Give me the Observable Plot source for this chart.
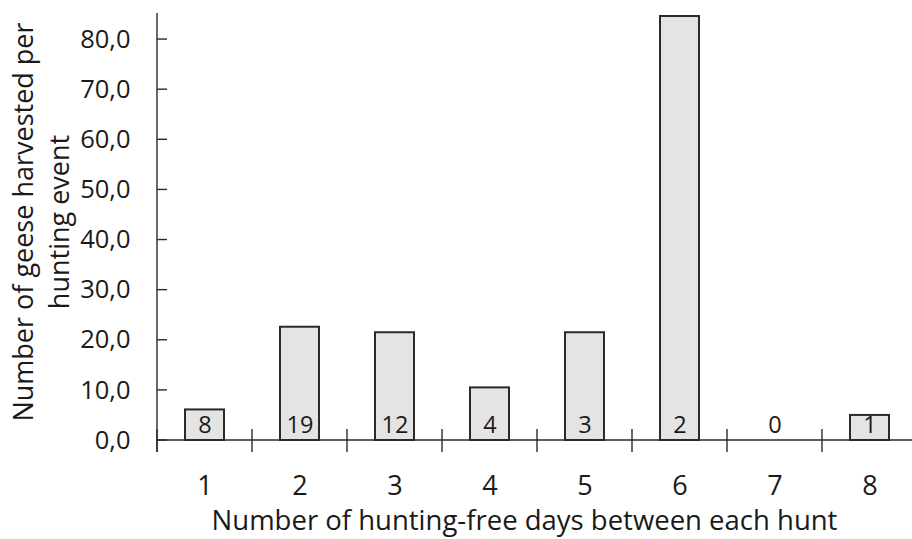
<!DOCTYPE html>
<html><head><meta charset="utf-8">
<script src="https://cdn.jsdelivr.net/npm/d3@7"></script>
<script src="https://cdn.jsdelivr.net/npm/@observablehq/plot@0.6"></script>
<style>html,body{margin:0;padding:0;background:#fff} svg{display:block}</style>
</head><body><div id="chart"></div>
<script>
const days = [1, 2, 3, 4, 5, 6, 7, 8];
const geesePerHunt = [6.1, 22.6, 21.5, 10.5, 21.5, 84.6, 0, 5.0];
const huntCounts = [8, 19, 12, 4, 3, 2, 0, 1];
const yTicks = [0, 10, 20, 30, 40, 50, 60, 70, 80];
const xTitle = "Number of hunting-free days between each hunt";
const yTitle = "Number of geese harvested per\nhunting event";

const data = days.map((d, i) => ({day: d, value: geesePerHunt[i], n: huntCounts[i]}));
const fmt = v => d3.format(".1f")(v).replace(".", ",");

function axisLines(index, scales, values, dim) {
  const g = d3.create("svg:g").attr("stroke", "#2a2a2a").attr("stroke-width", 1.4).attr("fill", "none");
  const x0 = dim.marginLeft, y0 = scales.y(0), yTop = dim.marginTop;
  g.append("line").attr("x1", x0).attr("x2", x0).attr("y1", yTop).attr("y2", y0 + 12);
  g.append("line").attr("x1", x0).attr("x2", dim.width).attr("y1", y0).attr("y2", y0);
  for (const t of yTicks) {
    const y = scales.y(t);
    g.append("line").attr("x1", x0).attr("x2", x0 + 10).attr("y1", y).attr("y2", y);
  }
  for (const d of days) {
    const x = scales.x(d);
    g.append("line").attr("x1", x).attr("x2", x).attr("y1", y0 - 11).attr("y2", y0 + 12);
  }
  return g.node();
}

const chart = Plot.plot({
  width: 912,
  height: 539,
  marginLeft: 157,
  marginRight: -5,
  marginTop: 13,
  marginBottom: 99,
  style: {fontFamily: "'Open Sans', 'Noto Sans', sans-serif", color: "#1a1a1a", background: "#fff"},
  x: {type: "band", domain: days, padding: 0},
  y: {domain: [0, 85.2]},
  marks: [
    Plot.barY(data, {x: "day", y: "value", fill: "#e4e4e4", stroke: "#2a2a2a", strokeWidth: 2, insetLeft: 28, insetRight: 28}),
    Plot.text(data, {x: "day", y: () => 0, text: "n", dy: -15, fontSize: 23.5, fill: "#1a1a1a"}),
    axisLines,
    Plot.axisY(yTicks, {tickFormat: fmt, tickSize: 0, tickPadding: 27, fontSize: 25.5, label: null}),
    Plot.axisX({tickSize: 0, tickPadding: 35, fontSize: 27, label: null}),
    Plot.text([xTitle], {frameAnchor: "bottom", text: d => d, dx: -13, dy: 81, lineAnchor: "middle", fontSize: 27.5, fill: "#1a1a1a"}),
    Plot.text([yTitle], {frameAnchor: "left", text: d => d, rotate: -90, dx: -118, dy: -5, lineAnchor: "middle", textAnchor: "middle", lineHeight: 1.33, fontSize: 27, fill: "#1a1a1a"})
  ]
});
document.getElementById("chart").appendChild(chart);
</script>
</body></html>
